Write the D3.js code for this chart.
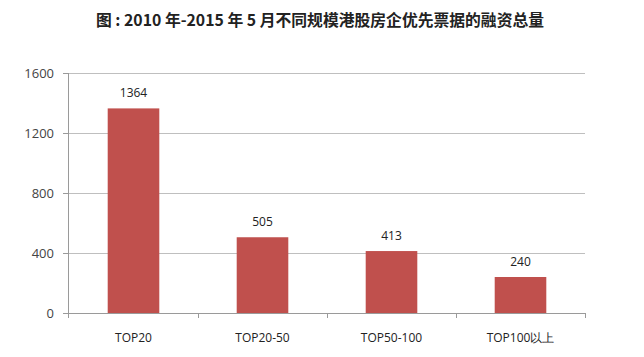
<!DOCTYPE html>
<html><head><meta charset="utf-8">
<script src="https://cdn.jsdelivr.net/npm/d3@7"></script>
<style>body{margin:0;background:#fff}svg{display:block}</style>
</head><body>
<svg id="c" width="644" height="357"></svg>
<script>
const title = "图 : 2010 年-2015 年 5 月不同规模港股房企优先票据的融资总量";
const categories = ["TOP20", "TOP20-50", "TOP50-100", "TOP100以上"];
const values = [1364, 505, 413, 240];
const yTicks = [0, 400, 800, 1200, 1600];

const svg = d3.select("#c");
const m = {l: 69, r: 59, t: 73, b: 44};
const W = 644 - m.l - m.r, H = 357 - m.t - m.b;
const g = svg.append("g").attr("transform", `translate(${m.l},${m.t})`);

svg.append("text").attr("x", 320).attr("y", 26).attr("text-anchor", "middle")
  .attr("font-family", "'Noto Sans CJK SC', sans-serif").attr("font-weight", "bold")
  .attr("font-size", 15.8).attr("fill", "#222").text(title);

const x = d3.scaleBand().domain(categories).range([0, W]).paddingInner(0.6).paddingOuter(0.3);
const y = d3.scaleLinear().domain([0, 1600]).range([H, 0]);

// gridlines
g.selectAll(".grid").data(yTicks).enter().append("line")
  .attr("x1", 0).attr("x2", W).attr("y1", d => y(d)).attr("y2", d => y(d))
  .attr("stroke", "#bfbfbf").attr("stroke-width", 1).attr("shape-rendering", "crispEdges");

// y axis
const ya = g.append("g").call(d3.axisLeft(y).tickValues(yTicks).tickFormat(d3.format("d")).tickSize(6).tickPadding(9));
ya.select(".domain").attr("stroke", "#9a9a9a").attr("d", `M-0.5,${H + 5}V0`);
ya.selectAll(".tick line").attr("stroke", "#9a9a9a");
ya.selectAll("text").attr("font-family", "'Open Sans', sans-serif").attr("font-size", 13).attr("fill", "#444");

// x axis
const xa = g.append("g").attr("transform", `translate(0,${H})`)
  .call(d3.axisBottom(x).tickSize(0).tickPadding(20));
xa.select(".domain").attr("stroke", "#9a9a9a").attr("d", `M0,0.5H${W}`);
xa.selectAll("text").attr("font-family", "'Open Sans', sans-serif").attr("font-size", 12)
  .attr("fill", "#222");
const step = x.step();
xa.selectAll(".sep").data(d3.range(1, categories.length + 1)).enter().append("line")
  .attr("x1", i => i * step).attr("x2", i => i * step).attr("y1", 0).attr("y2", 5)
  .attr("stroke", "#9a9a9a").attr("shape-rendering", "crispEdges");

// bars
g.selectAll(".bar").data(values).enter().append("rect")
  .attr("x", (d, i) => x(categories[i])).attr("width", x.bandwidth())
  .attr("y", d => y(d)).attr("height", d => H - y(d)).attr("fill", "#c0504d");

g.selectAll(".lbl").data(values).enter().append("text")
  .attr("x", (d, i) => x(categories[i]) + x.bandwidth() / 2).attr("y", d => y(d) - 11)
  .attr("text-anchor", "middle").attr("font-family", "'Open Sans', sans-serif")
  .attr("font-size", 12).attr("fill", "#222").text(d => d);
</script>
</body></html>
